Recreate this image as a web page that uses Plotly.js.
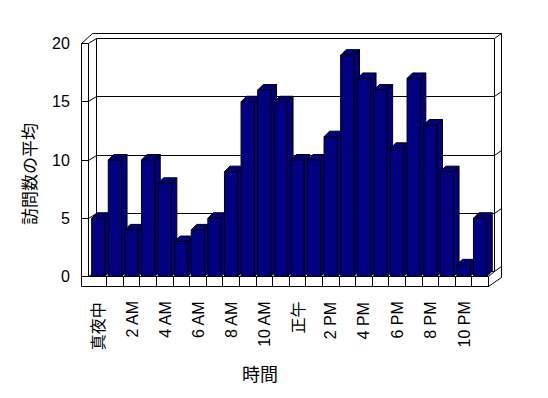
<!DOCTYPE html>
<html><head><meta charset="utf-8">
<script src="https://cdn.plot.ly/plotly-3.0.1.min.js"></script>
<style>html,body{margin:0;padding:0;background:#fff}#chart{width:548px;height:398px}</style>
</head><body><div id="chart"></div>
<script>
// ---- data ----
const hours = [0,1,2,3,4,5,6,7,8,9,10,11,12,13,14,15,16,17,18,19,20,21,22,23];
const visits = [5,10,4,10,8,3,4,5,9,15,16,15,10,10,12,19,17,16,11,17,13,9,1,5];
const tickHours = [0,2,4,6,8,10,12,14,16,18,20,22];
const tickLabels = ['真夜中','2 AM','4 AM','6 AM','8 AM','10 AM','正午','2 PM','4 PM','6 PM','8 PM','10 PM'];
const yTicks = [0,5,10,15,20];
const xTitle = '時間';
const yTitle = '訪問数の平均';

// ---- geometry (pixel frame of the 3D box) ----
const W = 548, H = 398;
const OX = 90, OY = 276.5;          // pixel of front plane: x=-0.5, y=0
const SX = 16.6, SY = 11.65;        // px per category / per unit
const X = px => (px - OX) / SX - 0.5;
const Y = py => (OY - py) / SY;
const PL = 79, PR = 504, PT = 31, PB = 289;
const PX = px => (px - PL) / (PR - PL);
const PY = py => (PB - py) / (PB - PT);
const BW = 0.8;                     // bar width (categories)
const BDX = 5.5 / SX, BDY = 5.5 / SY; // bar depth offset

const FONT = "'Liberation Sans', 'Noto Sans CJK JP', Arial, sans-serif";
const NAVY = '#000080';

// ---- walls / floor (decoration) ----
const shapes = [];
function seg(x1, y1, x2, y2) {
  shapes.push({type:'line', xref:'x', yref:'y', layer:'below',
    x0:X(x1), y0:Y(y1), x1:X(x2), y1:Y(y2), line:{color:'#000', width:1}});
}
const r = v => Math.round(v - 0.5) + 0.5;
const LO = 81.5, LI = 88.5, BL = 96.5, BR = 494.5, RO = 501.5, FR = 488.5;
const TOPF = r(OY - 20 * SY), TOPB = TOPF - 5, TOPO = TOPF - 10;
const FLOORB = 286.5;
seg(LO, TOPF, LO, FLOORB);
seg(LI, TOPF, LI, OY);
seg(LO, TOPF, LI, TOPF);
seg(LO, TOPF, 92.5, TOPO);
seg(92.5, TOPO, RO, TOPO);
seg(LI, TOPF, BL, TOPB);
seg(BL, TOPB, BR, TOPB);
seg(BL, TOPB, BL, OY - 5);
seg(BR, TOPB, BR, OY - 5);
seg(BR, TOPB, RO, TOPO);
seg(RO, TOPO, RO, 277.5);
yTicks.slice(0, 4).forEach(v => {
  const yf = r(OY - v * SY);
  seg(LO, yf, LI, yf);
  seg(LI, yf, BL, yf - 5);
  seg(BL, yf - 5, BR, yf - 5);
  seg(BR, yf - 5, RO, yf - 10);
});
seg(LI, OY, FR, OY);
seg(LO, FLOORB, FR, FLOORB);
seg(FR, OY, FR, FLOORB);
seg(FR, OY, BR, OY - 5);
seg(FR, FLOORB, RO, 277.5);
for (let k = 1; k < hours.length; k++) {
  const xp = r(OX + k * SX);
  seg(xp, OY, xp, FLOORB);
}

// ---- bar tops and sides (drawn under the front faces) ----
const traces = [];
hours.forEach((h, i) => {
  const v = visits[i], L = h - BW / 2, R = h + BW / 2;
  traces.push({
    type:'scatter', mode:'lines', fill:'toself', fillcolor:NAVY,
    line:{color:'#000', width:1}, hoverinfo:'skip', showlegend:false,
    xaxis:'x', yaxis:'y',
    x:[L, R, R + BDX, L + BDX, L, null, R, R + BDX, R + BDX, R, R],
    y:[v, v, v + BDY, v + BDY, v, null, 0, BDY, v + BDY, v, 0]
  });
});
// ---- front faces ----
traces.push({
  type:'bar', x:hours, y:visits, width:BW, xaxis:'x', yaxis:'y2',
  marker:{color:NAVY, line:{color:'#000', width:1}}, showlegend:false,
  name:yTitle
});

// ---- rotated category labels (top-aligned under the floor) ----
const annotations = tickHours.map((h, i) => ({
  text:tickLabels[i], xref:'x', yref:'paper', x:h, y:PY(301),
  xanchor:'center', yanchor:'top', textangle:-90, showarrow:false,
  borderpad:0, font:{family:FONT, size:16, color:'#000'}
}));
annotations.push(
  {text:xTitle, xref:'paper', yref:'paper', x:PX(260), y:PY(375), xanchor:'center', yanchor:'middle',
   showarrow:false, font:{family:FONT, size:18, color:'#000'}},
  {text:yTitle, xref:'paper', yref:'paper', x:PX(30), y:PY(174), xanchor:'center', yanchor:'middle',
   textangle:-90, showarrow:false, font:{family:FONT, size:17, color:'#000'}}
);

const yr = [Y(PB), Y(PT)];
const layout = {
  width:W, height:H, paper_bgcolor:'#fff', plot_bgcolor:'rgba(0,0,0,0)',
  margin:{l:PL, r:W - PR, t:PT, b:H - PB, pad:0},
  showlegend:false, bargap:0,
  font:{family:FONT, color:'#000', size:16},
  xaxis:{range:[X(PL), X(PR)], tickmode:'array', tickvals:tickHours, ticktext:tickLabels,
    showticklabels:false, showgrid:false, zeroline:false, showline:false, ticks:''},
  yaxis:{range:yr, tickmode:'array', tickvals:yTicks, showgrid:false, zeroline:false,
    showline:false, ticks:'outside', ticklen:5, tickcolor:'rgba(0,0,0,0)',
    tickfont:{family:FONT, size:16, color:'#000'}},
  yaxis2:{range:yr, overlaying:'y', visible:false, showgrid:false, zeroline:false},
  shapes:shapes,
  annotations:annotations
};
Plotly.newPlot('chart', traces, layout, {staticPlot:true, displayModeBar:false});
</script></body></html>
